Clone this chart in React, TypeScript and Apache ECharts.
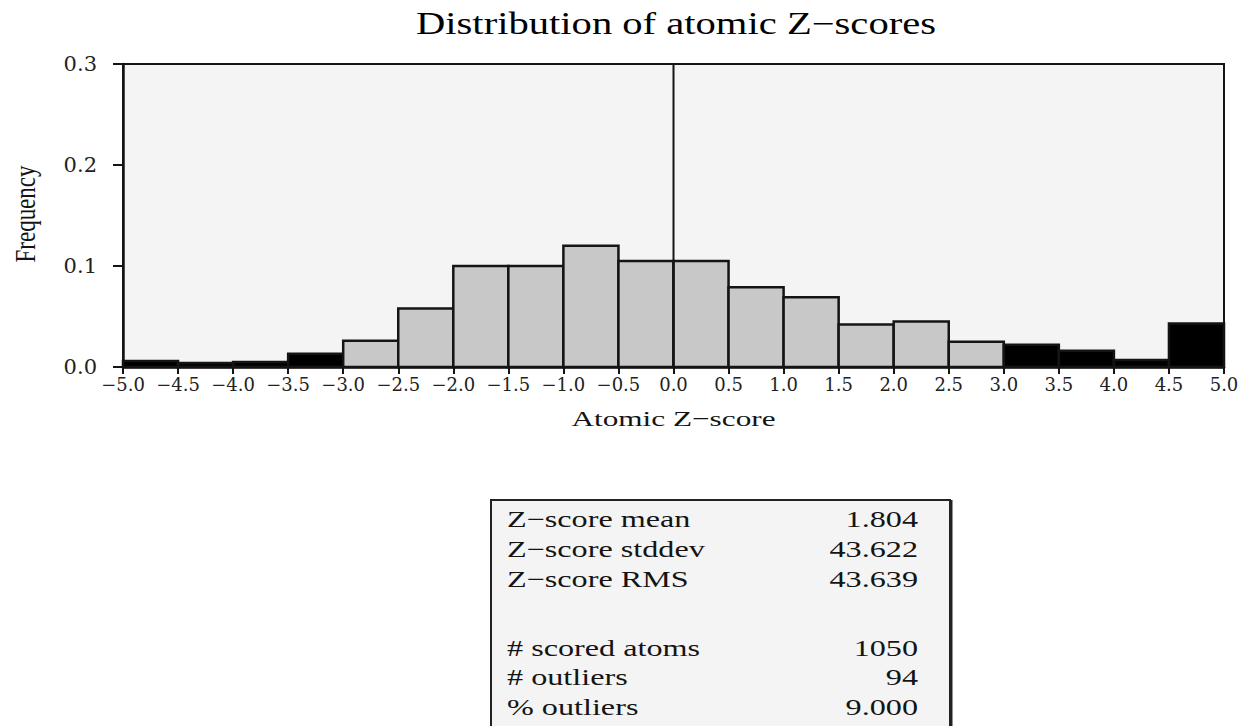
import React, { useEffect, useRef } from "react";
import * as echarts from "echarts";

// Histogram bins (lower edges) and their frequencies
const BIN_LOWER_EDGES = [-5.0, -4.5, -4.0, -3.5, -3.0, -2.5, -2.0, -1.5, -1.0, -0.5, 0.0, 0.5, 1.0, 1.5, 2.0, 2.5, 3.0, 3.5, 4.0, 4.5];
const BIN_WIDTH = 0.5;
const FREQUENCIES = [0.006, 0.004, 0.005, 0.013, 0.026, 0.058, 0.100, 0.100, 0.120, 0.105, 0.105, 0.079, 0.069, 0.042, 0.045, 0.025, 0.022, 0.016, 0.007, 0.043];
const OUTLIER_THRESHOLD = 3.0;

const X_MIN = -5;
const X_MAX = 5;
const X_INTERVAL = 0.5;
const Y_MIN = 0;
const Y_MAX = 0.3;
const Y_INTERVAL = 0.1;

const TITLE = "Distribution of atomic Z\u2212scores";
const X_NAME = "Atomic Z\u2212score";
const Y_NAME = "Frequency";

const STAT_LABELS = ["Z\u2212score mean", "Z\u2212score stddev", "Z\u2212score RMS", "", "# scored atoms", "# outliers", "% outliers"];
const STAT_VALUES = ["1.804", "43.622", "43.639", "", "1050", "94", "9.000"];

const SERIF = "'Liberation Serif', 'Times New Roman', serif";
const TICK_FONT = "'DejaVu Serif', serif";
const INK = "#141414";

function fmtNum(v: number): string {
  const s = Math.abs(v).toFixed(1);
  return v < 0 ? "\u2212" + s : s;
}

export default function App() {
  const ref = useRef<HTMLDivElement>(null);

  useEffect(() => {
    if (!ref.current) return;
    const chart = echarts.init(ref.current, null, { renderer: "svg" });

    const histData = BIN_LOWER_EDGES.map((lo, i) => [lo, lo + BIN_WIDTH, FREQUENCIES[i]]);

    const statRowY = [519, 549, 579, 609, 648, 677.5, 707];
    const statGraphics: any[] = [];
    STAT_LABELS.forEach((lab, i) => {
      if (!lab) return;
      statGraphics.push({
        type: "text",
        x: 507,
        y: statRowY[i],
        scaleX: 1.4,
        style: { text: lab, font: `23px ${SERIF}`, fill: INK, textAlign: "left", textVerticalAlign: "middle" },
        z: 10,
      });
      statGraphics.push({
        type: "text",
        x: 918,
        y: statRowY[i],
        scaleX: 1.4,
        style: { text: STAT_VALUES[i], font: `23px ${SERIF}`, fill: INK, textAlign: "right", textVerticalAlign: "middle" },
        z: 10,
      });
    });

    const option: any = {
      animation: false,
      backgroundColor: "#ffffff",
      grid: {
        left: 123,
        top: 64,
        width: 1101,
        height: 303,
        show: true,
        backgroundColor: "#f4f4f4",
        borderColor: INK,
        borderWidth: 2,
      },
      xAxis: {
        type: "value",
        min: X_MIN,
        max: X_MAX,
        interval: X_INTERVAL,
        axisLine: { show: true, onZero: false, lineStyle: { color: INK, width: 2.5 } },
        axisTick: { show: true, length: 7, lineStyle: { color: INK, width: 2 } },
        axisLabel: {
          margin: 8,
          fontFamily: TICK_FONT,
          fontSize: 18,
          color: "#222",
          formatter: (v: number) => fmtNum(v),
        },
        splitLine: { show: false },
      },
      yAxis: {
        type: "value",
        min: Y_MIN,
        max: Y_MAX,
        interval: Y_INTERVAL,
        axisLine: { show: true, onZero: false, lineStyle: { color: INK, width: 2.5 } },
        axisTick: { show: true, length: 10, lineStyle: { color: INK, width: 2 } },
        axisLabel: {
          margin: 26,
          fontFamily: TICK_FONT,
          fontSize: 21,
          color: "#222",
          formatter: (v: number) => v.toFixed(1),
        },
        splitLine: { show: false },
      },
      series: [
        {
          type: "custom",
          data: histData,
          encode: { x: [0, 1], y: 2 },
          renderItem: (params: any, api: any) => {
            const lo = api.value(0);
            const hi = api.value(1);
            const v = api.value(2);
            const pTop = api.coord([lo, v]);
            const pBot = api.coord([hi, 0]);
            const outlier = lo >= OUTLIER_THRESHOLD || hi <= -OUTLIER_THRESHOLD;
            return {
              type: "rect",
              shape: { x: pTop[0], y: pTop[1], width: pBot[0] - pTop[0], height: pBot[1] - pTop[1] },
              style: { fill: outlier ? "#000000" : "#c8c8c8", stroke: INK, lineWidth: 2.5 },
            };
          },
          z: 2,
        },
        {
          type: "line",
          data: [[0, Y_MIN], [0, Y_MAX]],
          symbol: "none",
          lineStyle: { color: INK, width: 2 },
          z: 3,
          silent: true,
        },
      ],
      graphic: [
        {
          type: "text",
          x: 676,
          y: 23.5,
          scaleX: 1.31,
          style: { text: TITLE, font: `31px ${SERIF}`, fill: "#000", textAlign: "center", textVerticalAlign: "middle" },
        },
        {
          type: "text",
          x: 673.5,
          y: 419,
          scaleX: 1.42,
          style: { text: X_NAME, font: `22px ${SERIF}`, fill: INK, textAlign: "center", textVerticalAlign: "middle" },
        },
        {
          type: "text",
          x: 25,
          y: 214,
          rotation: Math.PI / 2,
          scaleY: 1.3,
          style: { text: Y_NAME, font: `23px ${SERIF}`, fill: INK, textAlign: "center", textVerticalAlign: "middle" },
        },
        {
          type: "rect",
          shape: { x: 491, y: 500, width: 459, height: 250 },
          style: { fill: "#f4f4f4", stroke: "#222", lineWidth: 2 },
          z: 5,
        },
        {
          type: "line",
          shape: { x1: 951, y1: 500, x2: 951, y2: 750 },
          style: { stroke: "#222", lineWidth: 3 },
          z: 6,
        },
        ...statGraphics,
      ],
    };

    chart.setOption(option);
    return () => chart.dispose();
  }, []);

  return (
    <div
      ref={ref}
      style={{ position: "fixed", left: 0, top: 0, width: 1244, height: 726, background: "#fff" }}
    />
  );
}
